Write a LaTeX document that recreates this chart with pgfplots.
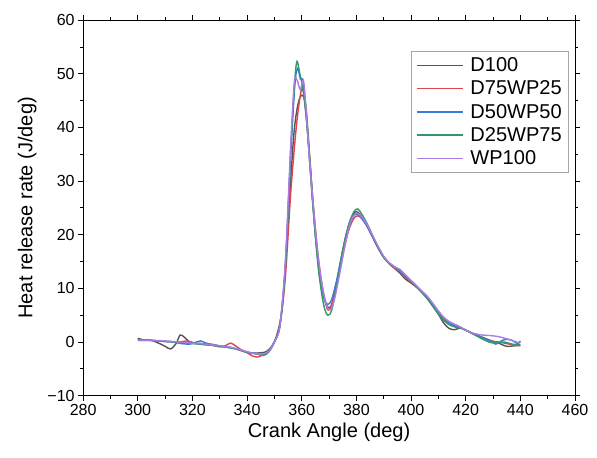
\documentclass[border=0pt]{standalone}
\usepackage{pgfplots}
\pgfplotsset{compat=1.18}
\usepackage{fontspec}
\setmainfont{Liberation Sans}
\definecolor{cD}{RGB}{85,85,85}
\definecolor{cR}{RGB}{220,70,75}
\definecolor{cB}{RGB}{55,125,215}
\definecolor{cG}{RGB}{55,150,105}
\definecolor{cP}{RGB}{170,125,230}
\begin{document}
\begin{tikzpicture}
\begin{axis}[
  scale only axis, width=491pt, height=375pt,
  xmin=280, xmax=460, ymin=-10, ymax=60,
  xtick={280,300,...,460}, ytick={-10,0,...,60},
  yticklabels={\textminus 10,0,10,20,30,40,50,60},
  minor x tick num=1, minor y tick num=1,
  tick align=outside,
  major tick length=5pt, minor tick length=3pt,
  /pgf/number format/assume math mode=true,
  /pgf/number format/set thousands separator={},
  ticklabel style={font=\fontsize{16}{18}\selectfont},
  xlabel={Crank Angle (deg)}, ylabel={Heat release rate (J/deg)},
  label style={font=\fontsize{20}{23}\selectfont},
  xlabel style={yshift=-1pt},
  ylabel style={yshift=4pt},
  axis line style={line width=0.8pt},
  every tick/.style={black, line width=0.7pt},
  legend style={at={(rel axis cs:0.988,0.917)}, anchor=north east, draw=gray!70, line width=0.6pt,
    font=\fontsize{20}{24}\selectfont, row sep=3.8pt, inner xsep=5pt, inner ysep=4pt},
  legend cell align=left,
  legend image code/.code={\draw[#1, line width=1.5pt] (-3pt,0pt) -- (43pt,0pt); \path (48pt,0pt);},
  every axis plot/.append style={line width=1.4pt, smooth, tension=0.5},
]
\coordinate (bl) at (rel axis cs:0,0);
\coordinate (tr) at (rel axis cs:1,1);
\addplot[cD] coordinates {(300,0.7)(302,0.4)(305,0.3)(308,-0.3)(310,-0.8)(312,-1.3)(314,-0.3)(315.5,1.3)(317,0.9)(319,0)(321,-0.2)(324,-0.3)(327,-0.5)(330,-0.8)(333,-1)(336,-1.3)(339,-1.8)(342,-2.1)(345,-2)(347,-1.8)(349,-0.8)(351,1.5)(353,7)(355,22)(357,38)(358.5,44)(360,46)(361.5,44)(363,34)(365,20)(367,11)(369,7)(370.5,6.5)(372,9)(374,14.5)(376,19.5)(378,23)(380,24.3)(382,23.3)(384,21.5)(386,19.5)(388,17.5)(390,15.8)(392,14.6)(394,13.7)(396,12.8)(398,11.7)(400,11)(402,10.2)(404,9.2)(406,8.2)(408,6.8)(410,5.2)(412,3.5)(414,2.5)(416,2.3)(418,2.6)(420,2.2)(423,1.5)(426,0.9)(429,0.3)(432,-0.2)(435,-0.8)(438,-0.7)(440,-0.6)};
\addlegendentry{D100}
\addplot[cR] coordinates {(300,0.4)(305,0.3)(310,0.1)(315,0)(318,0.2)(321,-0.2)(324,-0.5)(327,-0.6)(330,-0.9)(332,-0.7)(334,-0.2)(336,-0.8)(338,-1.5)(340,-2)(342,-2.6)(344,-2.8)(346,-2.3)(348,-1.6)(350,0)(352,3)(354,12)(356,28)(358,40)(359.5,46)(360.5,47)(362,40)(364,27)(366,16)(368,9)(369.5,6)(371,7)(373,11)(375,16)(377,20.5)(379,23)(380.5,23.5)(382,23)(384,21.5)(386,19.5)(388,17.5)(390,15.8)(392,14.6)(394,13.8)(396,13)(398,12)(400,11.2)(402,10.3)(404,9.3)(406,8.3)(408,7)(410,5.7)(412,4.5)(414,3.6)(416,3.2)(418,2.8)(420,2.2)(423,1.5)(426,0.8)(429,0.2)(432,0)(435,-0.3)(438,-0.6)(440,-0.7)};
\addlegendentry{D75WP25}
\addplot[cB] coordinates {(300,0.3)(305,0.3)(310,0.1)(313,0)(316,-0.3)(319,-0.4)(321,-0.1)(323,0.2)(325,-0.2)(328,-0.5)(331,-0.8)(334,-1)(337,-1.4)(340,-1.9)(343,-2.1)(346,-2.5)(348,-1.8)(350,0)(352,3)(354,14)(356,35)(357.5,48)(358.5,51)(359.5,49)(360.5,48.5)(362,40)(364,26)(366,15)(368,8.5)(369.5,7)(371,8)(373,12)(375,17)(377,21)(379,23.5)(380.5,23.8)(382,23)(384,21.5)(386,19.5)(388,17.5)(390,15.8)(392,14.7)(394,14)(396,13.2)(398,12.2)(400,11.3)(402,10.3)(404,9.3)(406,8.2)(408,6.8)(410,5.5)(412,4.3)(414,3.5)(416,3)(418,2.7)(420,2.2)(423,1.5)(426,0.8)(429,0.2)(431,-0.4)(433,0.2)(435,0.5)(437,0.3)(439,-0.3)(440,0.2)};
\addlegendentry{D50WP50}
\addplot[cG] coordinates {(300,0.5)(305,0.3)(310,0.1)(315,0)(320,-0.3)(325,-0.5)(330,-0.8)(335,-1.2)(340,-1.9)(343,-2.2)(346,-2.4)(348,-1.8)(350,0)(352,3)(354,14)(356,36)(357.5,49)(358.3,52.3)(359.3,50)(360.5,47)(362,40)(364,26)(366,14)(368,7)(369.5,5)(371,6)(373,11)(375,17)(377,21.5)(379,24.2)(380.5,24.8)(382,23.8)(384,22)(386,19.8)(388,17.6)(390,15.8)(392,14.7)(394,14)(396,13.3)(398,12.3)(400,11.3)(402,10.3)(404,9.2)(406,8)(408,6.6)(410,5.2)(412,4)(414,3.2)(416,2.8)(418,2.6)(420,2.2)(423,1.4)(426,0.6)(429,-0.1)(431,-0.2)(434,0)(437,-0.4)(440,-0.5)};
\addlegendentry{D25WP75}
\addplot[cP] coordinates {(300,0.3)(305,0.3)(310,0.2)(315,0)(320,-0.2)(325,-0.4)(330,-0.7)(335,-1.1)(340,-1.8)(343,-2.2)(346,-2.2)(348,-1.7)(350,0)(352,3)(354,15)(356,37)(357.3,48.5)(358.3,48.8)(359.5,47)(360.6,48.8)(361.5,44)(363,33)(365,21)(367,12)(369,7)(370.5,6)(372,8)(374,13)(376,18.5)(378,22.5)(380,24)(382,23.3)(384,21.8)(386,19.8)(388,17.8)(390,16)(392,14.8)(394,14)(396,13.5)(398,12.5)(400,11.5)(402,10.5)(404,9.5)(406,8.5)(408,7.2)(410,5.8)(412,4.6)(414,3.8)(416,3.3)(418,2.8)(420,2.2)(423,1.6)(426,1.3)(429,1.2)(432,1)(435,0.6)(438,0.1)(440,-0.2)};
\addlegendentry{WP100}
\end{axis}
\pgfresetboundingbox
\path ([xshift=-83pt,yshift=-61.5pt]bl) rectangle ([xshift=22pt,yshift=20pt]tr);
\end{tikzpicture}
\end{document}
